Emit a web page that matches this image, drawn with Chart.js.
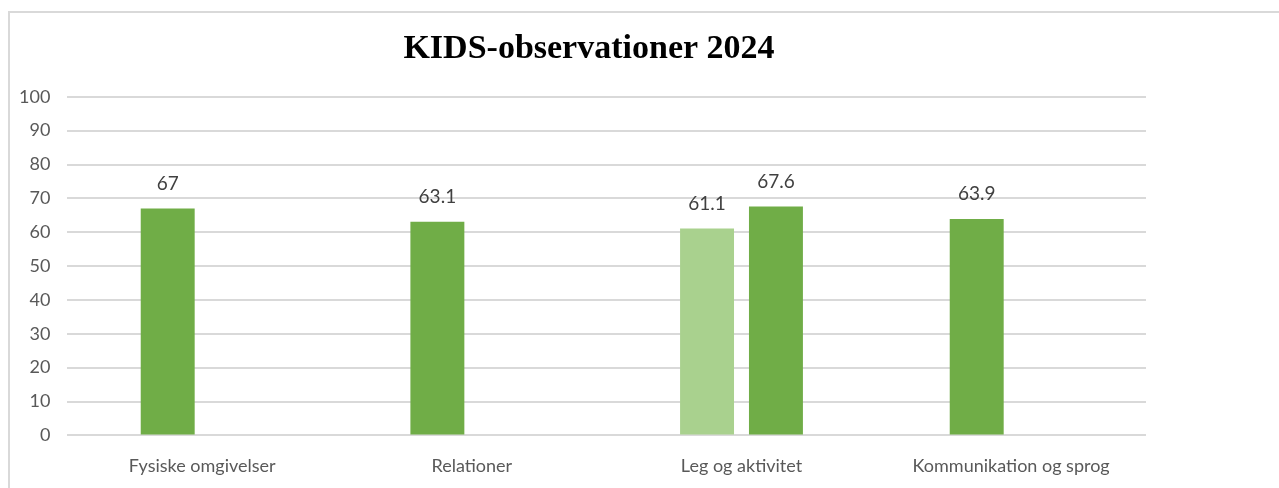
<!DOCTYPE html>
<html>
<head>
<meta charset="utf-8">
<script src="https://cdn.jsdelivr.net/npm/chart.js@4/dist/chart.umd.min.js"></script>
<style>
  html, body { margin: 0; padding: 0; background: #fff; overflow: hidden; width: 1279px; height: 488px; }
  #frame { position: absolute; left: 8px; top: 11px; width: 1300px; height: 560px; border: 2px solid #d9d9d9; }
  #box { position: absolute; left: -18px; top: 0; width: 1287px; height: 498px; }
</style>
</head>
<body>
<div id="frame"><div id="box"><canvas id="c"></canvas></div></div>
<script>
// data
const categories = ['Fysiske omgivelser', 'Relationer', 'Leg og aktivitet', 'Kommunikation og sprog'];
const seriesA = [67, 63.1, 61.1, 63.9];
const seriesB = [null, null, 67.6, null];
const yTicks = [0, 10, 20, 30, 40, 50, 60, 70, 80, 90, 100];

const DARK = '#70ad47', LIGHT = '#a9d18e';
const colorsA = seriesA.map(function(v, i){ return i === 2 ? LIGHT : DARK; });

// tal over søjlerne
const valueLabels = {
  id: 'valueLabels',
  afterDatasetsDraw: function(chart){
    const ctx = chart.ctx;
    ctx.save();
    ctx.font = '19px Lato';
    ctx.fillStyle = '#404040';
    ctx.textAlign = 'center';
    ctx.textBaseline = 'middle';
    chart.data.datasets.forEach(function(ds, di){
      chart.getDatasetMeta(di).data.forEach(function(bar, i){
        const v = ds.data[i];
        if(v === null || v === undefined) return;
        ctx.fillText(String(v), bar.x, bar.y - 25);
      });
    });
    ctx.restore();
  }
};

// titlen står lidt til højre for midten
const shiftTitle = {
  id: 'shiftTitle',
  afterLayout: function(chart){
    if(chart.titleBlock){ chart.titleBlock.left += 15; chart.titleBlock.right += 15; }
  }
};

new Chart(document.getElementById('c'), {
  type: 'bar',
  data: {
    labels: categories,
    datasets: [
      { label: 'A', data: seriesA, backgroundColor: colorsA, categoryPercentage: 0.511, barPercentage: 0.783 },
      { label: 'B', data: seriesB, backgroundColor: DARK, categoryPercentage: 0.511, barPercentage: 0.783 }
    ]
  },
  options: {
    responsive: true,
    maintainAspectRatio: false,
    animation: false,
    layout: { padding: { left: 10, right: 133, top: 0, bottom: 22 } },
    plugins: {
      legend: { display: false },
      tooltip: { enabled: false },
      title: {
        display: true,
        text: 'KIDS-observationer 2024',
        color: '#000',
        font: { family: 'Liberation Serif', size: 34, weight: 'bold' },
        padding: { top: 16, bottom: 27 }
      }
    },
    scales: {
      x: {
        grid: { display: false },
        border: { display: false },
        ticks: { color: '#595959', font: { family: 'Lato', size: 18 }, padding: 12, maxRotation: 0 }
      },
      y: {
        min: 0, max: 100,
        afterBuildTicks: function(axis){ axis.ticks = yTicks.map(function(v){ return { value: v }; }); },
        grid: { color: '#d9d9d9', lineWidth: 2, drawTicks: false },
        border: { display: false },
        ticks: { color: '#595959', font: { family: 'Lato', size: 18 }, padding: 17 }
      }
    }
  },
  plugins: [valueLabels, shiftTitle]
});
</script>
</body>
</html>
